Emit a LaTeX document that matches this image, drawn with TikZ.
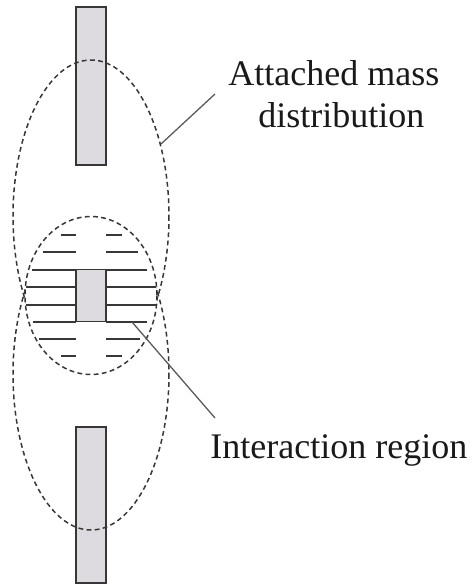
\documentclass[tikz,border=0pt]{standalone}
\usepackage{fontspec}
\setmainfont{Liberation Serif}
\usetikzlibrary{shapes.geometric}
\definecolor{barfill}{RGB}{221,219,224}
\definecolor{edge}{RGB}{55,55,55}
\definecolor{leader}{RGB}{90,90,90}
\tikzset{
  barbox/.style={draw=edge, fill=barfill, line width=0.75pt},
  cloud/.style={draw=edge, dash pattern=on 2.4pt off 1.7pt, line width=0.75pt},
  hatch/.style={draw=edge, line width=0.7pt},
  leaderline/.style={draw=leader, line width=0.65pt},
  lbl/.style={inner sep=0pt, anchor=base west, font=\fontsize{18}{21}\selectfont, text=black!90}
}
\begin{document}
\begin{tikzpicture}[x=0.5pt,y=-0.5pt]
\useasboundingbox (0,0) rectangle (472,586);
% bars (top and bottom)
\draw[barbox] (76,7) rectangle (106,165);
\draw[barbox] (76,427) rectangle (106,583);
% big ellipses
\draw[cloud] (91,216) ellipse [x radius=78, y radius=156];
\draw[cloud] (91,374) ellipse [x radius=78, y radius=156];
% interaction ellipse (covers inner parts)
\fill[white] (91,295.5) ellipse [x radius=66, y radius=79];
\draw[cloud] (91,295.5) ellipse [x radius=66, y radius=79];
% hatch lines
\foreach \y/\l/\r in {235/61/122, 252/43/138, 270/32/147, 287/26/156, 305/26/156, 322/33/147, 339/39/140, 356/61/122}{
  \draw[hatch] (\l,\y) -- (76,\y);
  \draw[hatch] (106,\y) -- (\r,\y);
}
% middle bar
\draw[barbox] (76,269.5) rectangle (106,321.5);
% labels
\node[lbl] (att1) at (228,85) {Attached mass};
\node[lbl] (att2) at (258,127) {distribution};
\node[lbl] (inter) at (210,458) {Interaction region};
% leader lines
\coordinate (p1) at (161,144);
\coordinate (q1) at (215,94);
\coordinate (p2) at (132,322);
\coordinate (q2) at (215,418);
\draw[leaderline] (p1) -- (q1);
\draw[leaderline] (p2) -- (q2);
\end{tikzpicture}
\end{document}
